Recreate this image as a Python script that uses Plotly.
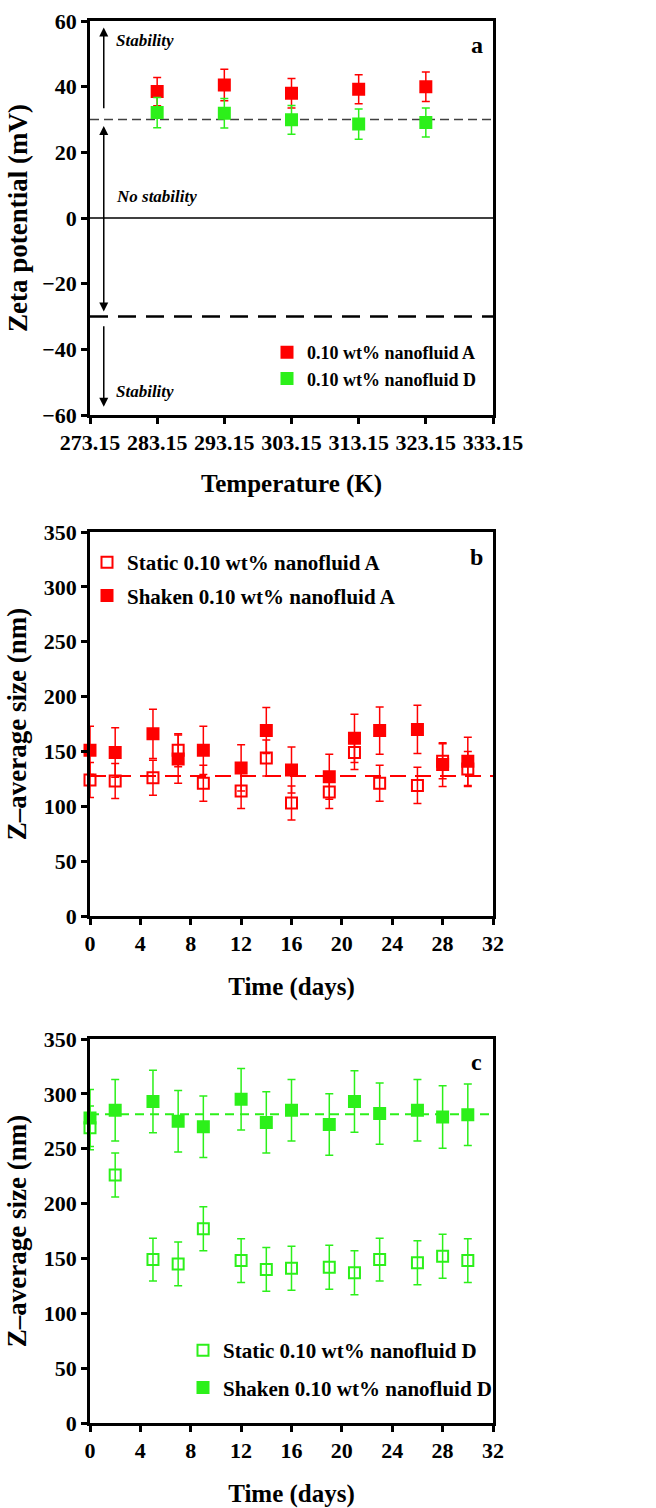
import plotly.graph_objects as go

# colours
red_col = "#ff0000"
green_col = "#2cf01a"

# panel a - zeta potential vs temperature
temp = [283.15, 293.15, 303.15, 313.15, 323.15]
zeta_a = [38.5, 40.5, 38.0, 39.2, 40.0]
zeta_a_err = [4.3, 4.8, 4.5, 4.4, 4.5]
zeta_d = [32.1, 31.9, 29.9, 28.6, 29.1]
zeta_d_err = [4.6, 4.5, 4.4, 4.6, 4.4]
zeta_limits = [30, -30]
temp_ticks = [273.15, 283.15, 293.15, 303.15, 313.15, 323.15, 333.15]

# panel b - nanofluid A size vs time
days = [0, 2, 5, 7, 9, 12, 14, 16, 19, 21, 23, 26, 28, 30]
static_a = [124, 123, 126, 151, 121, 114, 144, 103, 113, 149, 121, 119, 141, 134]
static_a_err = [16, 16, 16, 15, 16.5, 16, 16.5, 15.5, 15, 15.5, 16.5, 16.5, 16, 16]
shaken_a = [151, 149, 166, 143, 151, 135, 169, 133, 127, 162, 169, 170, 138, 141]
shaken_a_err = [22, 22.5, 22.5, 22, 22, 21, 21, 21, 20.5, 22, 21.5, 22, 20, 22]
mean_a = 127.5

# panel c - nanofluid D size vs time
static_d = [269, 226, 149, 145, 177, 148, 140, 141, 142, 137, 149, 146, 152, 148]
static_d_err = [20, 20, 19.5, 20, 20, 20, 20, 20, 20, 20, 19.5, 20, 20, 20]
shaken_d = [278, 285, 293, 275, 270, 295, 274, 285, 272, 293, 282, 285, 279, 281]
shaken_d_err = [26, 28, 28.5, 28, 28, 28, 28, 28, 28, 28, 28, 28, 28.5, 28]
mean_d = 281.5

font_family = "Liberation Serif, Times New Roman, serif"
W, H = 656, 1508


def px_x(p):
    return p / W


def px_y(p):
    return 1 - p / H


fig = go.Figure()


def add_series(x, y, err, col, name, symbol, xa, ya, legend, group):
    fig.add_trace(
        go.Scatter(
            x=x,
            y=y,
            mode="markers",
            name=name,
            marker=dict(symbol=symbol, size=11, color=col, line=dict(color=col, width=2)),
            error_y=dict(type="data", array=err, color=col, thickness=1.5, width=4),
            xaxis=xa,
            yaxis=ya,
            legend=legend,
            legendgroup=group,
            cliponaxis=False,
        )
    )


add_series(temp, zeta_a, zeta_a_err, red_col, "0.10 wt% nanofluid A", "square", "x", "y", "legend", "a1")
add_series(temp, zeta_d, zeta_d_err, green_col, "0.10 wt% nanofluid D", "square", "x", "y", "legend", "a2")
add_series(days, static_a, static_a_err, red_col, "Static 0.10 wt% nanofluid A", "square-open", "x2", "y2", "legend2", "b1")
add_series(days, shaken_a, shaken_a_err, red_col, "Shaken 0.10 wt% nanofluid A", "square", "x2", "y2", "legend2", "b2")
add_series(days, static_d, static_d_err, green_col, "Static 0.10 wt% nanofluid D", "square-open", "x3", "y3", "legend3", "c1")
add_series(days, shaken_d, shaken_d_err, green_col, "Shaken 0.10 wt% nanofluid D", "square", "x3", "y3", "legend3", "c2")

# reference lines
fig.add_shape(type="line", xref="x domain", yref="y", x0=0, x1=1, y0=zeta_limits[0], y1=zeta_limits[0],
              line=dict(color="#404040", width=1.5, dash="9px,5px"), layer="below")
fig.add_shape(type="line", xref="x domain", yref="y", x0=0, x1=1, y0=zeta_limits[1], y1=zeta_limits[1],
              line=dict(color="black", width=2.5, dash="18px,10px"), layer="below")
fig.add_shape(type="line", xref="x domain", yref="y", x0=0, x1=1, y0=0, y1=0,
              line=dict(color="black", width=1.5), layer="below")
fig.add_shape(type="line", xref="x2 domain", yref="y2", x0=0, x1=1, y0=mean_a, y1=mean_a,
              line=dict(color=red_col, width=2, dash="16px,9px"), layer="below")
fig.add_shape(type="line", xref="x3 domain", yref="y3", x0=0, x1=1, y0=mean_d, y1=mean_d,
              line=dict(color=green_col, width=2, dash="9px,6px"), layer="below")

# stability arrows
arrow_x = 275.2
for head, tail, side in [(58, 33, "end"), (-28.5, 28.5, "end+start"), (-57.5, -32.5, "end")]:
    fig.add_annotation(x=arrow_x, y=head, ax=arrow_x, ay=tail, xref="x", yref="y",
                       axref="x", ayref="y", text="", showarrow=True, arrowhead=2,
                       arrowsize=1.2, arrowwidth=1.5, arrowcolor="black", arrowside=side,
                       standoff=0, startstandoff=0, startarrowhead=2, startarrowsize=1.2)

for txt, yv in [("Stability", 54), ("No stability", 6.4), ("Stability", -52.7)]:
    fig.add_annotation(x=276.7, y=yv, xref="x", yref="y", text=txt, showarrow=False,
                       xanchor="left", yanchor="middle",
                       font=dict(family=font_family, size=17, style="italic", weight="bold", color="black"))

for lab, xa, yv in [("a", "x", 0.939), ("b", "x2", 0.935), ("c", "x3", 0.94)]:
    fig.add_annotation(x=0.96, y=yv, xref=xa + " domain", yref=xa.replace("x", "y") + " domain",
                       text=lab, showarrow=False, xanchor="center", yanchor="middle",
                       font=dict(family=font_family, size=24, weight="bold", color="black"))

xdom = [px_x(90), px_x(493)]
axis_common = dict(
    showline=True, linecolor="black", linewidth=2.5, mirror=True,
    ticks="outside", ticklen=6, tickwidth=2.5, tickcolor="black",
    showgrid=False, zeroline=False, automargin=False,
    tickfont=dict(family=font_family, size=22, weight="bold", color="black"),
)
title_font = dict(family=font_family, size=25, weight="bold", color="black")
ytitle_font = dict(family=font_family, size=27, weight="bold", color="black")

fig.update_layout(
    width=W,
    height=H,
    margin=dict(l=0, r=0, t=0, b=0),
    paper_bgcolor="white",
    plot_bgcolor="white",
    font=dict(family=font_family, color="black"),
    xaxis=dict(axis_common, domain=xdom, anchor="y", range=[273.15, 333.15],
               tickvals=temp_ticks, ticktext=[f"{t:.2f}" for t in temp_ticks],
               title=dict(text="Temperature (K)", font=title_font, standoff=21)),
    yaxis=dict(axis_common, domain=[px_y(415), px_y(21)], anchor="x", range=[-60, 60], dtick=20,
               title=dict(text="Zeta potential (mV)", font=ytitle_font, standoff=7)),
    xaxis2=dict(axis_common, domain=xdom, anchor="y2", range=[0, 32], dtick=4,
                title=dict(text="Time (days)", font=title_font, standoff=23)),
    yaxis2=dict(axis_common, domain=[px_y(916), px_y(532)], anchor="x2", range=[0, 350], dtick=50,
                title=dict(text="Z–average size (nm)", font=ytitle_font, standoff=10)),
    xaxis3=dict(axis_common, domain=xdom, anchor="y3", range=[0, 32], dtick=4,
                title=dict(text="Time (days)", font=title_font, standoff=25)),
    yaxis3=dict(axis_common, domain=[px_y(1423), px_y(1039)], anchor="x3", range=[0, 350], dtick=50,
                title=dict(text="Z–average size (nm)", font=ytitle_font, standoff=10)),
    legend=dict(x=px_x(267), y=px_y(334), xanchor="left", yanchor="top", itemwidth=30,
                bgcolor="rgba(0,0,0,0)", tracegroupgap=0, traceorder="grouped",
                font=dict(family=font_family, size=18, weight="bold", color="black")),
    legend2=dict(x=px_x(87), y=px_y(542), xanchor="left", yanchor="top", itemwidth=30,
                 bgcolor="rgba(0,0,0,0)", tracegroupgap=3, traceorder="grouped",
                 font=dict(family=font_family, size=21, weight="bold", color="black")),
    legend3=dict(x=px_x(183), y=px_y(1330), xanchor="left", yanchor="top", itemwidth=30,
                 bgcolor="rgba(0,0,0,0)", tracegroupgap=7, traceorder="grouped",
                 font=dict(family=font_family, size=21, weight="bold", color="black")),
)

# drop the page's default body margin so the figure fills the window
fig.write_html(
    "out.html",
    config={"displayModeBar": False},
    post_script="document.body.style.margin='0px';",
)
